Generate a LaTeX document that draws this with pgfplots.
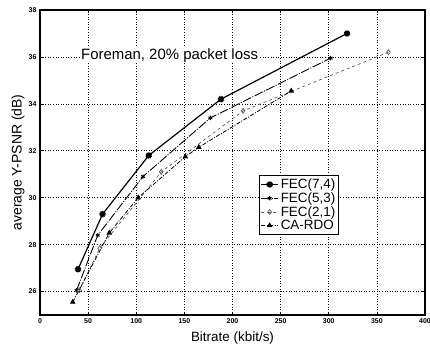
\documentclass[border=0pt]{standalone}
\usepackage{pgfplots}
\pgfplotsset{compat=1.18}
\usepackage{fontspec}
\setmainfont{Liberation Sans}
\usetikzlibrary{plotmarks}
\begin{document}
\begin{tikzpicture}[x=1bp,y=1bp]
\begin{axis}[
  at={(0,0)}, anchor=origin,
  scale only axis, width=385bp, height=305bp,
  xmin=0, xmax=400, ymin=25, ymax=38,
  xtick={0,50,...,400}, ytick={26,28,...,38},
  grid=major,
  major grid style={black, line width=0.6pt, dotted},
  axis line style={black, line width=1.1pt},
  tick style={black, line width=0.6pt},
  tick align=inside, major tick length=3bp,
  xticklabel style={font=\fontsize{7}{8}\selectfont\bfseries},
  yticklabel style={font=\fontsize{7}{8}\selectfont\bfseries},
  /pgf/number format/assume math mode=true,
  xlabel={Bitrate (kbit/s)},
  ylabel={average Y-PSNR (dB)},
  xlabel style={font=\fontsize{13.5}{14}\selectfont, at={(axis description cs:0.5,0)}, anchor=center, yshift=-23bp},
  ylabel style={font=\fontsize{14}{15}\selectfont, at={(axis description cs:0,0.5)}, anchor=center, yshift=22bp},
  legend style={at={(rel axis cs:0.568,0.459)}, anchor=north west, draw=black, line width=0.8pt,
    font=\fontsize{13.5}{14}\selectfont, row sep=-1.5pt, inner sep=1.5pt, fill=white},
  legend cell align=left,
]
\addplot[black, line width=1.2pt, mark=10-pointed star, mark size=3.2pt, mark options={solid, fill=black}]
  coordinates {(39.5,26.95) (65,29.3) (113,31.8) (188,34.2) (319,37.0)};
\addlegendentry{FEC(7,4)}
\addplot[black, line width=0.9pt, mark=asterisk, mark size=2.2pt, mark options={solid}, dash pattern=on 9pt off 1.5pt on 1pt off 1.5pt]
  coordinates {(38,26.05) (60,28.4) (107,30.9) (177,33.4) (302,35.95)};
\addlegendentry{FEC(5,3)}
\addplot[black!65, line width=0.7pt, dashed, mark=diamond, mark size=2.5pt, mark options={solid}]
  coordinates {(41,26.05) (62,27.85) (126,31.1) (211,33.7) (362,36.2)};
\addlegendentry{FEC(2,1)}
\addplot[black, line width=0.8pt, dash pattern=on 4pt off 1.5pt on 1pt off 1.5pt, mark=triangle*, mark size=2.5pt, mark options={solid}]
  coordinates {(34,25.55) (72,28.5) (102,30.0) (151,31.75) (165,32.15) (261,34.55)};
\addlegendentry{CA-RDO}
\node[anchor=west, fill=white, inner sep=0.5pt, font=\fontsize{15}{16}\selectfont] at (axis cs:42,36.05) {Foreman, 20\% packet loss};
\end{axis}
\pgfresetboundingbox
\path (-40,-30) rectangle (390,315);
\end{tikzpicture}
\end{document}
